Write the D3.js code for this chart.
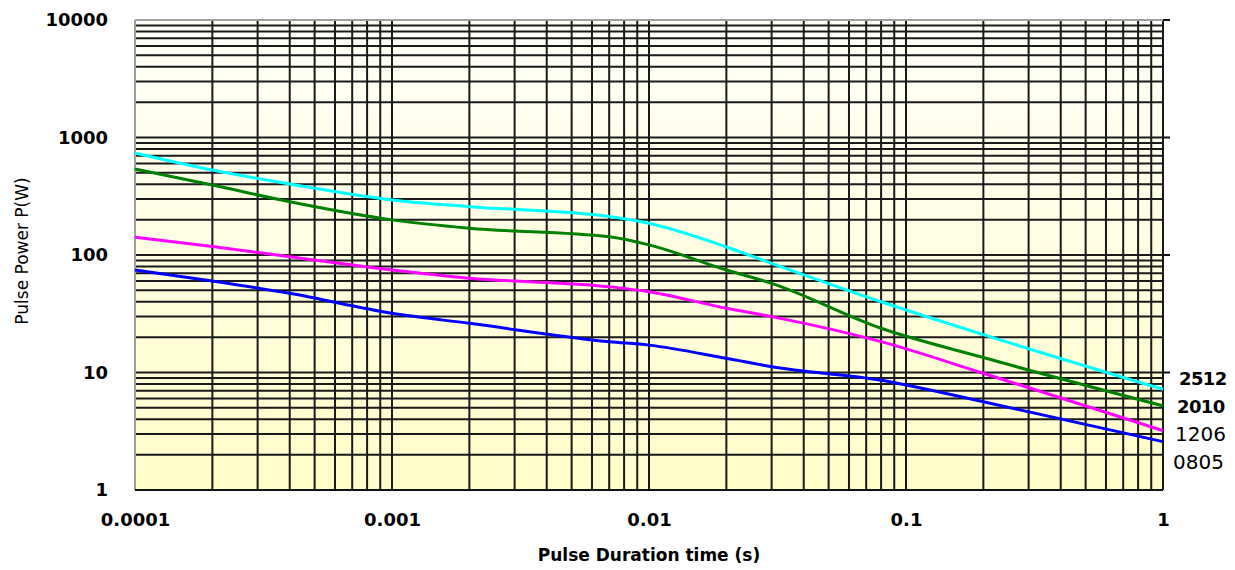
<!DOCTYPE html>
<html>
<head>
<meta charset="utf-8">
<script src="https://cdn.jsdelivr.net/npm/d3@7"></script>
<style>
  body { margin: 0; background: #fff; }
  svg text { font-family: "DejaVu Sans", sans-serif; fill: #000; }
</style>
</head>
<body>
<div id="chart"></div>
<script>
const durations = [0.0001, 0.0002, 0.0004, 0.001, 0.002, 0.007, 0.01, 0.02, 0.03, 0.08, 0.2, 1];

// pulse power (W) per resistor size
const sizes = ["2512", "2010", "1206", "0805"];
const power2512 = [738, 528, 402, 294, 258, 213, 186, 117, 85, 40, 21, 7.2];
const power2010 = [540, 394, 284, 199, 169, 143, 122, 74.5, 57.4, 23.8, 13.4, 5.2];
const power1206 = [142, 118, 96.8, 74.5, 63.4, 53.7, 48.7, 35.2, 29.9, 18.3, 9.85, 3.2];
const power0805 = [74.5, 60, 47.2, 31.9, 26.2, 18.3, 17.1, 13.2, 11.2, 8.6, 5.64, 2.58];
const seriesColors = ["#00ffff", "#008000", "#ff00ff", "#0000ff"];

const xTickValues = [0.0001, 0.001, 0.01, 0.1, 1];
const xTickLabels = ["0.0001", "0.001", "0.01", "0.1", "1"];
const yTickValues = [1, 10, 100, 1000, 10000];
const yTickLabels = ["1", "10", "100", "1000", "10000"];

const series = [power2512, power2010, power1206, power0805].map((vals, i) => ({
    name: sizes[i],
    color: seriesColors[i],
    points: durations.map((t, j) => ({ t: t, p: vals[j] }))
}));

const width = 1235, height = 570;
const margin = { top: 20, right: 72, bottom: 80, left: 135 };
const innerW = width - margin.left - margin.right;
const innerH = height - margin.top - margin.bottom;

const svg = d3.select("#chart").append("svg")
    .attr("width", width)
    .attr("height", height);

const defs = svg.append("defs");
const grad = defs.append("linearGradient")
    .attr("id", "bg")
    .attr("x1", 0).attr("y1", 0).attr("x2", 0).attr("y2", 1);
grad.append("stop").attr("offset", "0%").attr("stop-color", "#fffff9");
grad.append("stop").attr("offset", "100%").attr("stop-color", "#fffdc8");

const g = svg.append("g")
    .attr("transform", `translate(${margin.left},${margin.top})`);

const x = d3.scaleLog().domain([0.0001, 1]).range([0, innerW]);
const y = d3.scaleLog().domain([1, 10000]).range([innerH, 0]);

// plot background
g.append("rect")
    .attr("width", innerW)
    .attr("height", innerH)
    .attr("fill", "url(#bg)");

// grid lines (every 1..9 x decade)
g.append("g")
    .selectAll("line")
    .data(x.ticks().filter(d => d > 0.0001))
    .join("line")
    .attr("x1", d => x(d)).attr("x2", d => x(d))
    .attr("y1", 0).attr("y2", innerH)
    .attr("stroke", "#1a1a1a")
    .attr("stroke-width", 2);

g.append("g")
    .selectAll("line")
    .data(y.ticks().filter(d => d > 1 && d < 10000))
    .join("line")
    .attr("x1", 0).attr("x2", innerW)
    .attr("y1", d => y(d)).attr("y2", d => y(d))
    .attr("stroke", "#1a1a1a")
    .attr("stroke-width", 2);

// frame: grey left/top, black bottom/right
g.append("line").attr("x1", 0).attr("x2", 0).attr("y1", 0).attr("y2", innerH)
    .attr("stroke", "#a0a0a0").attr("stroke-width", 2);
g.append("line").attr("x1", 0).attr("x2", innerW).attr("y1", 0).attr("y2", 0)
    .attr("stroke", "#a0a0a0").attr("stroke-width", 2);
g.append("line").attr("x1", 0).attr("x2", innerW).attr("y1", innerH).attr("y2", innerH)
    .attr("stroke", "#111").attr("stroke-width", 2);

// little decade ticks on the right edge
g.append("g")
    .selectAll("line")
    .data(yTickValues.filter(d => d > 1))
    .join("line")
    .attr("x1", innerW).attr("x2", innerW + 7)
    .attr("y1", d => y(d)).attr("y2", d => y(d))
    .attr("stroke", "#111")
    .attr("stroke-width", 2);

// curves
const line = d3.line()
    .x(d => x(d.t))
    .y(d => y(d.p))
    .curve(d3.curveMonotoneX);

g.append("g")
    .selectAll("path")
    .data(series)
    .join("path")
    .attr("d", d => line(d.points))
    .attr("fill", "none")
    .attr("stroke", d => d.color)
    .attr("stroke-width", 3);

// axes labels
const xAxis = g.append("g")
    .attr("transform", `translate(0,${innerH})`)
    .call(d3.axisBottom(x)
        .tickValues(xTickValues)
        .tickFormat((d, i) => xTickLabels[i])
        .tickSize(0)
        .tickPadding(23));
xAxis.select(".domain").remove();
xAxis.selectAll("text")
    .attr("font-family", "DejaVu Sans")
    .attr("font-weight", "bold")
    .attr("font-size", 18)
    .attr("fill", "#000");

const yAxis = g.append("g")
    .call(d3.axisLeft(y)
        .tickValues(yTickValues)
        .tickFormat((d, i) => yTickLabels[i])
        .tickSize(0)
        .tickPadding(27));
yAxis.select(".domain").remove();
yAxis.selectAll("text")
    .attr("font-family", "DejaVu Sans")
    .attr("font-weight", "bold")
    .attr("font-size", 18)
    .attr("fill", "#000");

// axis titles
svg.append("text")
    .attr("x", margin.left + innerW / 2)
    .attr("y", 561)
    .attr("text-anchor", "middle")
    .attr("font-weight", "bold")
    .attr("font-size", 17)
    .text("Pulse Duration time (s)");

svg.append("text")
    .attr("transform", "translate(28,251) rotate(-90)")
    .attr("text-anchor", "middle")
    .attr("font-size", 17)
    .text("Pulse Power P(W)");

// series names to the right of the plot
const labelBold = [true, true, false, false];
svg.append("g")
    .selectAll("text")
    .data(series)
    .join("text")
    .attr("x", (d, i) => margin.left + innerW + 16 - i * 2)
    .attr("y", (d, i) => 385 + i * 28)
    .attr("font-size", (d, i) => labelBold[i] ? 18 : 20)
    .attr("font-weight", (d, i) => labelBold[i] ? "bold" : "normal")
    .attr("letter-spacing", (d, i) => labelBold[i] ? -0.6 : 0)
    .text(d => d.name);
</script>
</body>
</html>
